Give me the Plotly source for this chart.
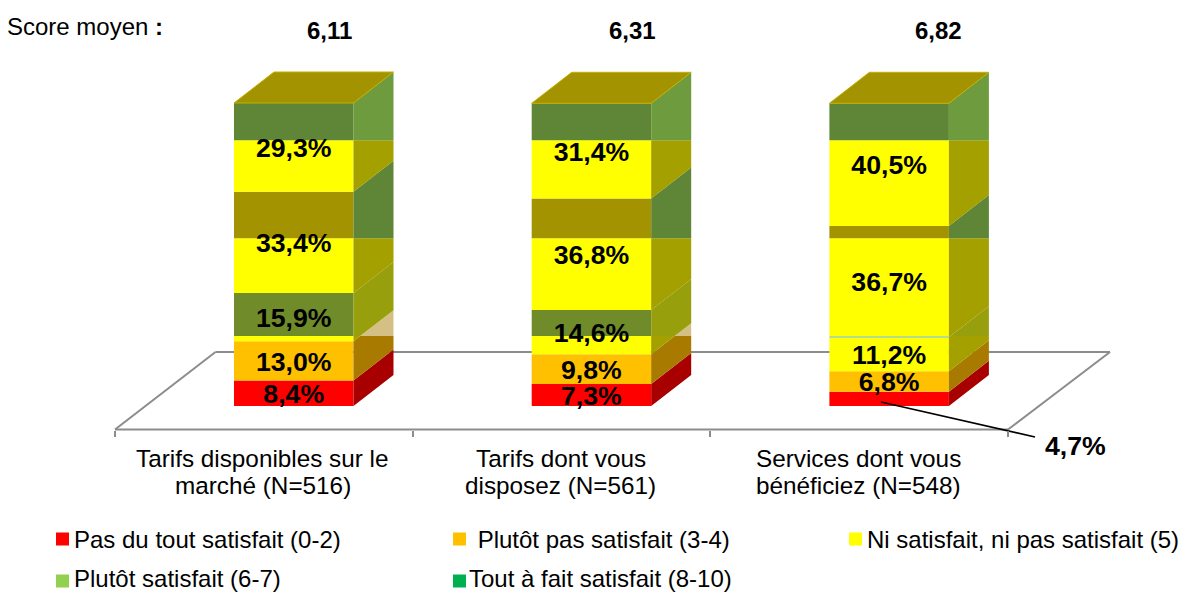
import plotly.graph_objects as go

# ---------- data ----------
categories = ["Tarifs disponibles sur le<br>marché (N=516)",
              "Tarifs dont vous<br>disposez (N=561)",
              "Services dont vous<br>bénéficiez (N=548)"]
scores = ["6,11", "6,31", "6,82"]
series_names = ["Pas du tout satisfait (0-2)", " Plutôt pas satisfait (3-4)",
                "Ni satisfait, ni pas satisfait (5)", "Plutôt satisfait (6-7)",
                "Tout à fait satisfait (8-10)"]
legend_colors = ["#FF0000", "#FFC000", "#FFFF00", "#92D050", "#00B050"]
pas_du_tout = [8.4, 7.3, 4.7]
plutot_pas = [13.0, 9.8, 6.8]
ni_ni = [15.9, 14.6, 11.2]
plutot_sat = [33.4, 36.8, 36.7]
tout_a_fait = [29.3, 31.4, 40.5]
series_values = [pas_du_tout, plutot_pas, ni_ni, plutot_sat, tout_a_fait]

# The reference's rendering recolours each series in horizontal zones
zone_levels = [23.1, 55.4, 87.7]
front_colors = [
    ["#FF0000"] * 4,
    ["#FFC000"] * 4,
    ["#FFFF00", "#708C2A", "#708C2A", "#708C2A"],
    ["#B4DC8C", "#FFFF00", "#A39300", "#A39300"],
    ["#FFFF00", "#FFFF00", "#FFFF00", "#5F8636"],
]
side_colors = [
    ["#A80000"] * 4,
    ["#A87A00", "#D4BF85", "#D4BF85", "#D4BF85"],
    ["#A3A000", "#979F0C", "#979F0C", "#979F0C"],
    ["#A3A000", "#A3A000", "#5F8636", "#5F8636"],
    ["#A3A000", "#A3A000", "#A3A000", "#6E9B3D"],
]
top_color = "#A39300"

# ---------- pixel geometry of the plot ----------
W, H = 1195, 592
X0, X_STEP = 115.0, 297.7      # px of x=0, px per category
Y0, Y_STEP = 406.0, 3.03       # px of y=0, px per percent
BAR_CENTER, BAR_WIDTH = 0.6004, 0.4014
DX, DY = 40 / X_STEP, 31 / Y_STEP
FLOOR_FRONT_PX, FLOOR_BACK_PX = 429.5, 352
FONT = "Liberation Sans"


def ux(px):
    return (px - X0) / X_STEP


def uy(px):
    return (Y0 - px) / Y_STEP


def clip(poly, lo, hi):
    def cut(points, keep, edge):
        out = []
        for i, p in enumerate(points):
            q = points[(i + 1) % len(points)]
            if keep(p):
                out.append(p)
            if keep(p) != keep(q):
                t = (edge - p[1]) / (q[1] - p[1])
                out.append((p[0] + t * (q[0] - p[0]), edge))
        return out
    poly = cut(poly, lambda p: p[1] >= lo, lo)
    if poly:
        poly = cut(poly, lambda p: p[1] <= hi, hi)
    return poly


edges = [-1e9] + zone_levels + [1e9]
fig = go.Figure()

# cumulative bounds
bounds = []
for c in range(len(categories)):
    acc, row = 0.0, []
    for s in series_values:
        row.append((acc, acc + s[c]))
        acc += s[c]
    bounds.append(row)

# front faces
for s in range(len(series_values)):
    for z in range(4):
        xs, bases, heights = [], [], []
        for c in range(len(categories)):
            lo, hi = bounds[c][s]
            a, b = max(lo, edges[z]), min(hi, edges[z + 1])
            if b > a:
                xs.append(c + BAR_CENTER)
                bases.append(a)
                heights.append(b - a)
        if xs:
            fig.add_trace(go.Bar(x=xs, y=heights, base=bases, width=BAR_WIDTH,
                                 marker=dict(color=front_colors[s][z], line_width=0),
                                 showlegend=False, hoverinfo="skip"))

# side faces
for s in range(len(series_values)):
    for z in range(4):
        px_, py_ = [], []
        for c in range(len(categories)):
            lo, hi = bounds[c][s]
            xr = c + BAR_CENTER + BAR_WIDTH / 2
            poly = clip([(xr, lo), (xr + DX, lo + DY), (xr + DX, hi + DY), (xr, hi)],
                        edges[z], edges[z + 1])
            if poly:
                px_ += [p[0] for p in poly] + [poly[0][0], None]
                py_ += [p[1] for p in poly] + [poly[0][1], None]
        if px_:
            fig.add_trace(go.Scatter(x=px_, y=py_, mode="lines", fill="toself",
                                     fillcolor=side_colors[s][z], line=dict(width=0),
                                     showlegend=False, hoverinfo="skip"))

# top faces
tx, ty = [], []
for c in range(len(categories)):
    xl = c + BAR_CENTER - BAR_WIDTH / 2
    xr = xl + BAR_WIDTH
    t = bounds[c][-1][1]
    tx += [xl, xr, xr + DX, xl + DX, xl, None]
    ty += [t, t, t + DY, t + DY, t, None]
fig.add_trace(go.Scatter(x=tx, y=ty, mode="lines", fill="toself", fillcolor=top_color,
                         line=dict(width=1, color="#C4B000"),
                         showlegend=False, hoverinfo="skip"))

# value labels
LABEL_SHIFT = 3.0 / Y_STEP
lx, ly, lt = [], [], []
for c in range(len(categories)):
    for s, vals in enumerate(series_values):
        if s == 0 and vals[c] < 5:
            continue
        lo, hi = bounds[c][s]
        lx.append(c + BAR_CENTER)
        ly.append((lo + hi) / 2 - LABEL_SHIFT)
        lt.append("<b>" + f"{vals[c]:.1f}".replace(".", ",") + "%</b>")
fig.add_trace(go.Scatter(x=lx, y=ly, mode="text", text=lt, textposition="middle center",
                         textfont=dict(family=FONT, size=26.67, color="black"),
                         showlegend=False, hoverinfo="skip"))

# leader line + outside label for the thin red segment
fig.add_trace(go.Scatter(x=[ux(881), ux(1035)], y=[uy(402), uy(437)], mode="lines",
                         line=dict(color="black", width=1.6),
                         showlegend=False, hoverinfo="skip"))
fig.add_annotation(x=ux(1075.5), y=uy(445.5), showarrow=False,
                   text="<b>" + f"{pas_du_tout[2]:.1f}".replace(".", ",") + "%</b>",
                   font=dict(family=FONT, size=26.67, color="black"))

# scores
for px_score, sc in zip([329.5, 632, 938], scores):
    fig.add_annotation(x=ux(px_score), y=uy(30), showarrow=False, text=f"<b>{sc}</b>",
                       font=dict(family=FONT, size=24, color="black"))
fig.add_annotation(x=ux(5), y=uy(26), xanchor="left", showarrow=False,
                   text="Score moyen <b>:</b>",
                   font=dict(family=FONT, size=24, color="black"))

# category labels (two tight lines each)
for c, label in enumerate(categories):
    for line, py in zip(label.split("<br>"), [458.5, 485]):
        fig.add_annotation(x=c + 0.497, y=uy(py), showarrow=False, text=line,
                           font=dict(family=FONT, size=24.3, color="black"))

# floor of the 3D chart
floor_line = dict(color="#8C8C8C", width=2)
for a, b, c_, d in [(ux(115), FLOOR_FRONT_PX, ux(215.5), FLOOR_BACK_PX),
                    (ux(215.5), FLOOR_BACK_PX, ux(1110), FLOOR_BACK_PX),
                    (ux(1110), FLOOR_BACK_PX, ux(1008), FLOOR_FRONT_PX),
                    (ux(1008), FLOOR_FRONT_PX, ux(115), FLOOR_FRONT_PX)]:
    fig.add_shape(type="line", layer="below", x0=a, x1=c_, y0=uy(b), y1=uy(d), line=floor_line)

# legend, laid out in three columns: swatch x, swatch y, text x, text y
legend_slots = [(56, 539, 72, 539), (453, 539, 469, 539), (849, 539, 865, 539),
                (56, 581, 72, 578.5), (453, 581, 467, 578.5)]
for name, color, (sx, sy, tx_, ty_) in zip(series_names, legend_colors, legend_slots):
    fig.add_shape(type="rect", x0=ux(sx), x1=ux(sx + 13), y0=uy(sy - 6.5), y1=uy(sy + 6.5),
                  fillcolor=color, line_width=0)
    fig.add_annotation(x=ux(tx_), y=uy(ty_), xanchor="left", showarrow=False,
                       text=name.replace(" ", "&nbsp;", 1) if name.startswith(" ") else name,
                       font=dict(family=FONT, size=24, color="black"))

fig.update_layout(
    width=W, height=H, margin=dict(l=0, r=0, t=0, b=0),
    paper_bgcolor="white", plot_bgcolor="white", barmode="overlay", showlegend=False,
    xaxis=dict(range=[ux(0), ux(W)], domain=[0, 1], anchor="free",
               position=(H - FLOOR_FRONT_PX) / H,
               showgrid=False, zeroline=False, showline=False, showticklabels=False,
               tickmode="array", tickvals=[0, 1, 2, 3], ticks="outside",
               ticklen=6, tickwidth=2, tickcolor="#8C8C8C"),
    yaxis=dict(range=[uy(H), uy(0)], domain=[0, 1], visible=False, showgrid=False, zeroline=False),
)

fig.write_html("out.html", config={"displayModeBar": False},
               post_script="document.body.style.margin='0';document.body.style.overflow='hidden';")
